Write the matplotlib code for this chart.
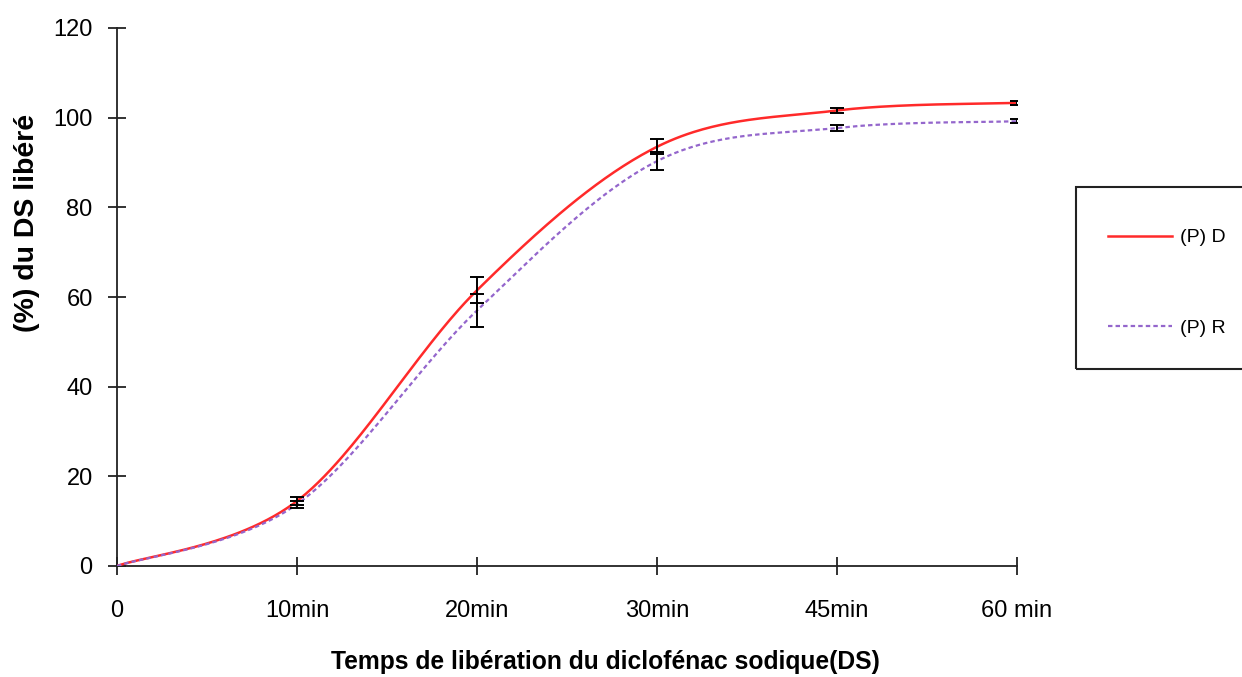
import matplotlib.pyplot as plt
import numpy as np
from matplotlib.patches import Rectangle

plt.rcParams['font.family'] = ['Liberation Sans', 'DejaVu Sans']

#%% data

categories = ['0', '10min', '20min', '30min', '45min', '60 min']
pd_values = [0, 14.5, 61.5, 93.5, 101.6, 103.3]
pd_errors = [0, 1.0, 2.9, 1.7, 0.5, 0.5]
pr_values = [0, 13.8, 57.0, 90.3, 97.7, 99.2]
pr_errors = [0, 0.8, 3.6, 2.0, 0.6, 0.5]


#%% excel style smoothed line (catmull-rom bezier)

def smooth_line(xs, ys, steps=60):
    pts = np.column_stack([xs, ys]).astype(float)
    n = len(pts)
    out = []
    for i in range(n - 1):
        p0 = pts[max(i - 1, 0)]
        p1 = pts[i]
        p2 = pts[i + 1]
        p3 = pts[min(i + 2, n - 1)]
        c1 = p1 + (p2 - p0) / 6
        c2 = p2 - (p3 - p1) / 6
        t = np.linspace(0, 1, steps)[:, None]
        seg = ((1 - t) ** 3 * p1 + 3 * (1 - t) ** 2 * t * c1
               + 3 * (1 - t) * t ** 2 * c2 + t ** 3 * p2)
        out.append(seg if i == 0 else seg[1:])
    seg = np.vstack(out)
    return seg[:, 0], seg[:, 1]


#%% plot

x = np.arange(len(categories))

fig = plt.figure(figsize=(12.42, 6.77), dpi=100)
ax = fig.add_axes([117 / 1242, 111 / 677, 900 / 1242, 538 / 677])

sx, sy = smooth_line(x, pd_values)
ax.plot(sx, sy, color='#ff2a2a', lw=1.8, label='(P) D', zorder=3)
sx, sy = smooth_line(x, pr_values)
ax.plot(sx, sy, color='#9466cc', lw=1.6, ls=(0, (2, 1.4)), label='(P) R', zorder=3)

ax.errorbar(x[1:], pd_values[1:], yerr=pd_errors[1:], fmt='none', ecolor='black',
            elinewidth=1.4, capsize=5, capthick=1.4, zorder=4)
ax.errorbar(x[1:], pr_values[1:], yerr=pr_errors[1:], fmt='none', ecolor='black',
            elinewidth=1.4, capsize=5, capthick=1.4, zorder=4)

ax.set_xlim(0, len(categories) - 1)
ax.set_ylim(0, 120)
ax.set_xticks(x)
ax.set_xticklabels(categories)
ax.set_yticks(np.arange(0, 121, 20))

for s in ['top', 'right']:
    ax.spines[s].set_visible(False)
for s in ['left', 'bottom']:
    ax.spines[s].set_linewidth(1.3)
    ax.spines[s].set_color('#222222')
    ax.spines[s].set_clip_on(False)

ax.tick_params(axis='both', direction='inout', length=13, width=1.3,
               color='#222222', labelsize=17)
ax.tick_params(axis='x', pad=18)
ax.tick_params(axis='y', pad=11)

ax.set_xlabel('Temps de libération du diclofénac sodique(DS)', fontsize=17.7,
              fontweight='bold')
ax.xaxis.set_label_coords(0.543, -0.156)
ax.set_ylabel('(%) du DS libéré', fontsize=20.5, fontweight='bold')
ax.yaxis.set_label_coords(-0.086, 0.6375)

# legend box runs off the right edge like the original
fig.patches.append(Rectangle((1076 / 1242, 1 - 369 / 677), 200 / 1242, 182 / 677,
                             transform=fig.transFigure, fill=False,
                             edgecolor='#222222', lw=1.5))
fig.legend(loc='upper left', bbox_to_anchor=(1098 / 1242, 1 - 219 / 677),
           frameon=False, fontsize=14, handlelength=3.3, handletextpad=0.4,
           labelspacing=3.75, borderpad=0)

fig.savefig('out.png', dpi=100)
